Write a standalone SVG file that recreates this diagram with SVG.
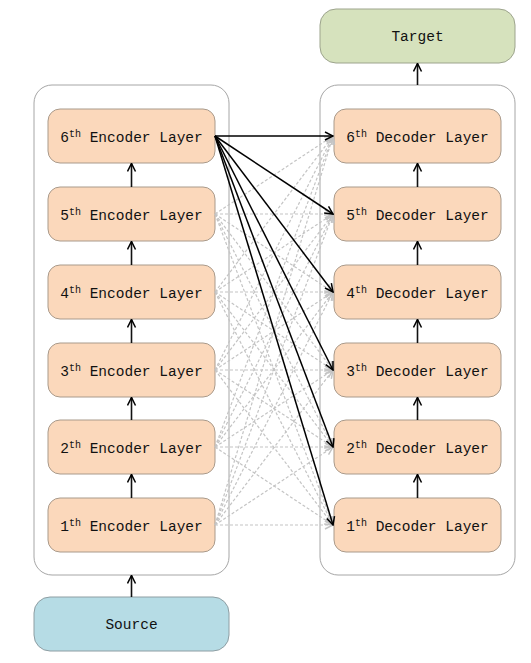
<svg xmlns="http://www.w3.org/2000/svg" width="531" height="663" viewBox="0 0 531 663">
<defs>
<style>
.cont{fill:#ffffff;stroke:#a6a6a6;stroke-width:1}
.layer{fill:#fbd8bb;stroke:#a99a8b;stroke-width:1}
.tgt{fill:#d6e2bd;stroke:#9da48d;stroke-width:1}
.src{fill:#b6dce5;stroke:#8e9ea3;stroke-width:1}
text{font-family:"Liberation Mono","DejaVu Sans Mono",monospace;font-size:14.5px;fill:#111;text-anchor:middle}
.sup{font-size:10px}
.solid{stroke:#000;stroke-width:1.5;fill:none;marker-end:url(#ah)}
.dash{stroke:#c4c4c4;stroke-width:1.2;stroke-dasharray:3,2;fill:none;marker-end:url(#ahg)}
.up{stroke:#111;stroke-width:1.6;fill:none;marker-end:url(#ah)}
</style>
<marker id="ah" viewBox="0 0 10 10" refX="9" refY="5" markerWidth="10" markerHeight="10" markerUnits="userSpaceOnUse" orient="auto">
<polyline points="1,1 9,5 1,9" fill="none" stroke="#000" stroke-width="1.5"/>
</marker>
<marker id="ahg" viewBox="0 0 10 10" refX="9" refY="5" markerWidth="10" markerHeight="10" markerUnits="userSpaceOnUse" orient="auto">
<polyline points="1,1 9,5 1,9" fill="none" stroke="#c4c4c4" stroke-width="1.5"/>
</marker>
</defs>

<g id="encoder-container"><rect class="cont" x="34" y="85" width="195" height="490" rx="18"/></g>
<g id="decoder-container"><rect class="cont" x="320" y="85" width="195" height="490" rx="18"/></g>

<g id="target"><rect class="tgt" x="320" y="9" width="195" height="54" rx="16"/><text x="417.5" y="41">Target</text></g>
<g id="source"><rect class="src" x="34" y="597" width="195" height="54" rx="16"/><text x="131.5" y="629">Source</text></g>

<g id="enc6"><rect class="layer" x="48" y="109" width="167" height="54" rx="12"/><text x="131.5" y="141.5">6<tspan class="sup" dy="-5">th</tspan><tspan dy="5"> Encoder Layer</tspan></text></g>
<g id="enc5"><rect class="layer" x="48" y="187" width="167" height="54" rx="12"/><text x="131.5" y="219.5">5<tspan class="sup" dy="-5">th</tspan><tspan dy="5"> Encoder Layer</tspan></text></g>
<g id="enc4"><rect class="layer" x="48" y="265" width="167" height="54" rx="12"/><text x="131.5" y="297.5">4<tspan class="sup" dy="-5">th</tspan><tspan dy="5"> Encoder Layer</tspan></text></g>
<g id="enc3"><rect class="layer" x="48" y="343" width="167" height="54" rx="12"/><text x="131.5" y="375.5">3<tspan class="sup" dy="-5">th</tspan><tspan dy="5"> Encoder Layer</tspan></text></g>
<g id="enc2"><rect class="layer" x="48" y="420" width="167" height="54" rx="12"/><text x="131.5" y="452.5">2<tspan class="sup" dy="-5">th</tspan><tspan dy="5"> Encoder Layer</tspan></text></g>
<g id="enc1"><rect class="layer" x="48" y="498" width="167" height="54" rx="12"/><text x="131.5" y="530.5">1<tspan class="sup" dy="-5">th</tspan><tspan dy="5"> Encoder Layer</tspan></text></g>

<g id="dec6"><rect class="layer" x="334" y="109" width="167" height="54" rx="12"/><text x="417.5" y="141.5">6<tspan class="sup" dy="-5">th</tspan><tspan dy="5"> Decoder Layer</tspan></text></g>
<g id="dec5"><rect class="layer" x="334" y="187" width="167" height="54" rx="12"/><text x="417.5" y="219.5">5<tspan class="sup" dy="-5">th</tspan><tspan dy="5"> Decoder Layer</tspan></text></g>
<g id="dec4"><rect class="layer" x="334" y="265" width="167" height="54" rx="12"/><text x="417.5" y="297.5">4<tspan class="sup" dy="-5">th</tspan><tspan dy="5"> Decoder Layer</tspan></text></g>
<g id="dec3"><rect class="layer" x="334" y="343" width="167" height="54" rx="12"/><text x="417.5" y="375.5">3<tspan class="sup" dy="-5">th</tspan><tspan dy="5"> Decoder Layer</tspan></text></g>
<g id="dec2"><rect class="layer" x="334" y="420" width="167" height="54" rx="12"/><text x="417.5" y="452.5">2<tspan class="sup" dy="-5">th</tspan><tspan dy="5"> Decoder Layer</tspan></text></g>
<g id="dec1"><rect class="layer" x="334" y="498" width="167" height="54" rx="12"/><text x="417.5" y="530.5">1<tspan class="sup" dy="-5">th</tspan><tspan dy="5"> Decoder Layer</tspan></text></g>

<g id="connectors">
<!-- dashed cross connections from encoders 1-5 -->
<path class="dash" d="M215,214 L333,136"/><path class="dash" d="M215,214 L333,214"/><path class="dash" d="M215,214 L333,292"/><path class="dash" d="M215,214 L333,370"/><path class="dash" d="M215,214 L333,447"/><path class="dash" d="M215,214 L333,525"/>
<path class="dash" d="M215,292 L333,136"/><path class="dash" d="M215,292 L333,214"/><path class="dash" d="M215,292 L333,292"/><path class="dash" d="M215,292 L333,370"/><path class="dash" d="M215,292 L333,447"/><path class="dash" d="M215,292 L333,525"/>
<path class="dash" d="M215,370 L333,136"/><path class="dash" d="M215,370 L333,214"/><path class="dash" d="M215,370 L333,292"/><path class="dash" d="M215,370 L333,370"/><path class="dash" d="M215,370 L333,447"/><path class="dash" d="M215,370 L333,525"/>
<path class="dash" d="M215,447 L333,136"/><path class="dash" d="M215,447 L333,214"/><path class="dash" d="M215,447 L333,292"/><path class="dash" d="M215,447 L333,370"/><path class="dash" d="M215,447 L333,447"/><path class="dash" d="M215,447 L333,525"/>
<path class="dash" d="M215,525 L333,136"/><path class="dash" d="M215,525 L333,214"/><path class="dash" d="M215,525 L333,292"/><path class="dash" d="M215,525 L333,370"/><path class="dash" d="M215,525 L333,447"/><path class="dash" d="M215,525 L333,525"/>
<!-- solid from 6th encoder -->
<path class="solid" d="M215,136 L333,136"/><path class="solid" d="M215,136 L333,214"/><path class="solid" d="M215,136 L333,292"/><path class="solid" d="M215,136 L333,370"/><path class="solid" d="M215,136 L333,447"/><path class="solid" d="M215,136 L333,525"/>
<!-- vertical arrows encoder -->
<path class="up" d="M131.5,187 V163.5"/><path class="up" d="M131.5,265 V241.5"/><path class="up" d="M131.5,343 V319.5"/><path class="up" d="M131.5,420 V397.5"/><path class="up" d="M131.5,498 V474.5"/>
<path class="up" d="M131.5,597 V575.5"/>
<!-- vertical arrows decoder -->
<path class="up" d="M417.5,187 V163.5"/><path class="up" d="M417.5,265 V241.5"/><path class="up" d="M417.5,343 V319.5"/><path class="up" d="M417.5,420 V397.5"/><path class="up" d="M417.5,498 V474.5"/>
<path class="up" d="M417.5,85 V63.5"/>
</g>
</svg>
